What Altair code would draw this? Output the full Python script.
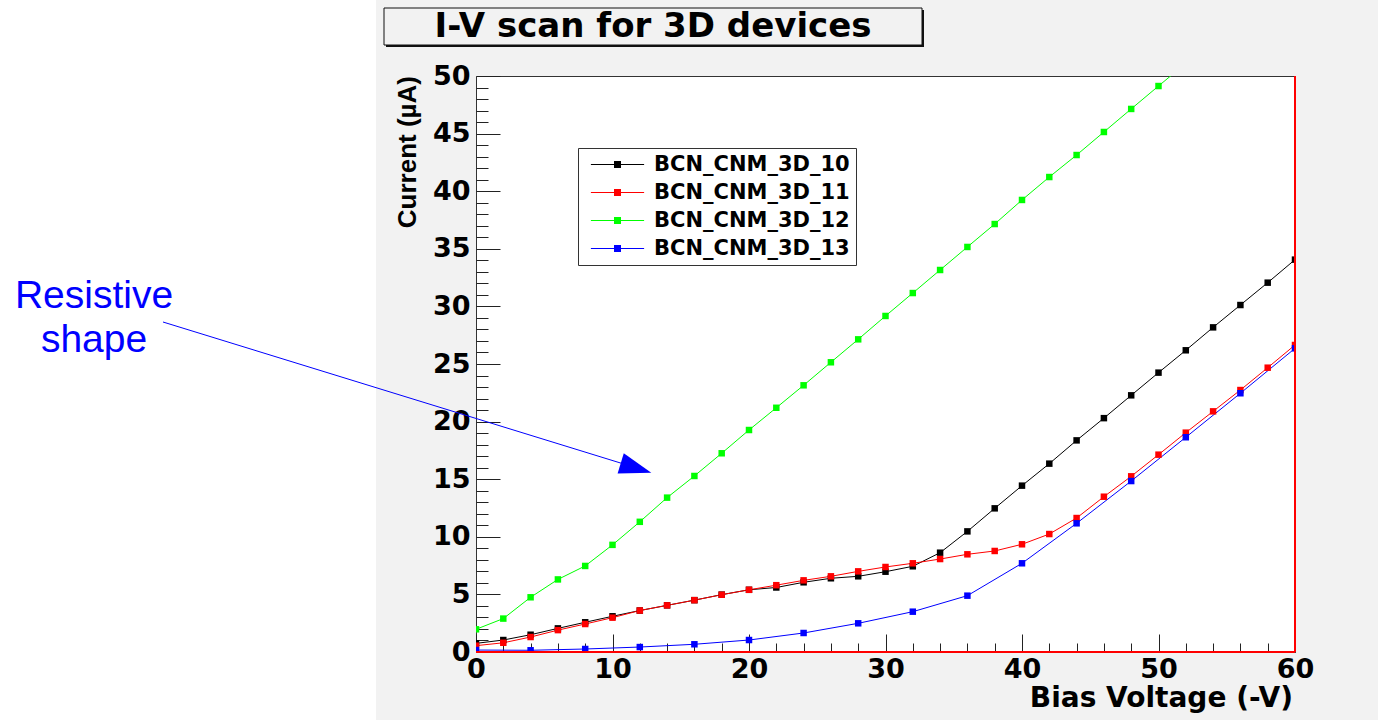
import altair as alt
import pandas as pd

# Bias voltage steps (-V)
VOLTS = list(range(0, 62, 2))
VOLTS_12 = list(range(0, 54, 2))
VOLTS_13 = list(range(0, 64, 4))

# Leakage current (uA) per device
I_10 = [0.75, 1.04, 1.5, 2.05, 2.58, 3.1, 3.6, 4.05, 4.5, 4.98, 5.4,
        5.6, 6.05, 6.4, 6.57, 6.97, 7.44, 8.62, 10.47, 12.47, 14.44,
        16.35, 18.37, 20.3, 22.28, 24.25, 26.19, 28.18, 30.12, 32.06, 34.06]
I_11 = [0.55, 0.8, 1.3, 1.9, 2.43, 2.98, 3.6, 4.05, 4.5, 4.97, 5.4,
        5.8, 6.22, 6.57, 7.0, 7.38, 7.7, 8.07, 8.48, 8.77, 9.35,
        10.24, 11.63, 13.48, 15.25, 17.13, 19.04, 20.89, 22.74, 24.68, 26.65]
I_12 = [1.97, 2.9, 4.75, 6.3, 7.47, 9.3, 11.3, 13.4, 15.28, 17.25, 19.27,
        21.2, 23.15, 25.15, 27.14, 29.17, 31.16, 33.16, 35.16, 37.15, 39.24,
        41.23, 43.14, 45.14, 47.14, 49.13, 51.1]
I_13 = [0.17, 0.15, 0.26, 0.43, 0.67, 1.04, 1.65, 2.49, 3.5, 4.89, 7.7,
        11.17, 14.84, 18.64, 22.46, 26.36]

DEVICES = ["BCN_CNM_3D_10", "BCN_CNM_3D_11", "BCN_CNM_3D_12", "BCN_CNM_3D_13"]
COLORS = ["#000000", "#ff0000", "#00ff00", "#0000ff"]

X_MAJOR = list(range(0, 61, 10))
X_MINOR = [v for v in range(0, 61, 2) if v % 10]
Y_MAJOR = list(range(0, 51, 5))
Y_MINOR = [v for v in range(0, 51) if v % 5]

rows = []
for name, xs, ys in zip(DEVICES, [VOLTS, VOLTS, VOLTS_12, VOLTS_13], [I_10, I_11, I_12, I_13]):
    for v, i in zip(xs, ys):
        rows.append({"device": name, "volt": v, "current": i})
df = pd.DataFrame(rows)
one = pd.DataFrame({"k": [0]})

W, H = 819, 576
PAD = {"left": 476, "top": 76, "right": 83, "bottom": 68}

BOLD = "DejaVu Sans"
xscale = alt.Scale(domain=[0, 60], nice=False, zero=False)
yscale = alt.Scale(domain=[0, 50], nice=False, zero=False)
# marker fill scale (carries the legend) and line stroke scale (device names sort in order)
fill_scale = alt.Scale(domain=DEVICES, range=COLORS)
stroke_scale = alt.Scale(range=COLORS)

axis_common = dict(domain=False, grid=False, title=None, tickColor="#222222", tickWidth=1)
x_major = alt.Axis(orient="bottom", values=X_MAJOR, tickSize=18, offset=-18, labelPadding=4,
                   labelFont=BOLD, labelFontWeight="bold", labelFontSize=27, labelColor="black",
                   labelFlush=False, labelOverlap=False, format="d", **axis_common)
x_minor = alt.Axis(orient="bottom", values=X_MINOR, tickSize=9, offset=-9, labels=False, **axis_common)
y_major = alt.Axis(orient="left", values=Y_MAJOR, tickSize=24, offset=-24, labelPadding=6,
                   labelFont=BOLD, labelFontWeight="bold", labelFontSize=27, labelColor="black",
                   labelFlush=False, labelOverlap=False, format="d", **axis_common)
y_minor = alt.Axis(orient="left", values=Y_MINOR, tickSize=12, offset=-12, labels=False, **axis_common)

# line sample with a square marker in the middle
LEGEND_SYMBOL = "M-7.6,-0.15H7.6V0.15H-7.6Z M-1,-1H1V1H-1Z"
legend = alt.Legend(title=None, orient="none", legendX=102, legendY=72,
                    padding=6, strokeColor="#333333", fillColor="white",
                    symbolType=LEGEND_SYMBOL, symbolSize=49, symbolStrokeWidth=0,
                    symbolOffset=23, labelOffset=26, rowPadding=6, labelLimit=500,
                    labelFont=BOLD, labelFontWeight="bold", labelFontSize=21, labelColor="black",
                    labelExpr="datum.label + '\u00a0\u00a0\u00a0\u00a0\u00a0'")

lines = alt.Chart(df).mark_line(strokeWidth=1, clip=True).encode(
    x=alt.X("volt:Q", scale=xscale, axis=x_major),
    y=alt.Y("current:Q", scale=yscale, axis=y_major),
    stroke=alt.Stroke("device:N", scale=stroke_scale, legend=None),
)
points = alt.Chart(df).mark_square(size=42, filled=True, opacity=1, clip=True).encode(
    x=alt.X("volt:Q", scale=xscale, axis=x_minor),
    y=alt.Y("current:Q", scale=yscale, axis=y_minor),
    fill=alt.Fill("device:N", scale=fill_scale, legend=legend),
)

# red frame edges on the right and bottom
edge_right = alt.Chart(pd.DataFrame({"v": [60]})).mark_rule(color="#ff0000", strokeWidth=2).encode(
    x=alt.X("v:Q", scale=xscale, axis=None))
edge_bottom = alt.Chart(pd.DataFrame({"v": [0]})).mark_rule(color="#ff0000", strokeWidth=2).encode(
    y=alt.Y("v:Q", scale=yscale, axis=None))

# white panel on the left side of the canvas
left_panel = alt.Chart(one).mark_rect(color="white").encode(
    x=alt.value(-PAD["left"]), x2=alt.value(-100), y=alt.value(-PAD["top"]), y2=alt.value(H + PAD["bottom"]))

# title box with drop shadow
title_shadow = alt.Chart(one).mark_rect(color="#111111").encode(
    x=alt.value(-90), x2=alt.value(448), y=alt.value(-66), y2=alt.value(-29))
title_box = alt.Chart(one).mark_rect(fill="#f2f2f2", stroke="#111111", strokeWidth=1).encode(
    x=alt.value(-92), x2=alt.value(446), y=alt.value(-68), y2=alt.value(-31))
title_text = alt.Chart(one).mark_text(text="I-V scan for 3D devices", font=BOLD, fontWeight="bold",
                                      fontSize=34, align="center", baseline="alphabetic", color="black").encode(
    x=alt.value(177), y=alt.value(-39))

y_title = alt.Chart(one).mark_text(text="Current (µA)", font="Liberation Sans", fontWeight="bold",
                                   fontSize=26, angle=270, align="right", baseline="middle", color="black").encode(
    x=alt.value(-68), y=alt.value(0))
x_title = alt.Chart(one).mark_text(text="Bias Voltage (-V)", font=BOLD, fontWeight="bold",
                                   fontSize=28, align="right", baseline="alphabetic", color="black").encode(
    x=alt.value(817), y=alt.value(631))

# annotation arrow
note = alt.Chart(one).mark_text(text=["Resistive", "shape"], lineHeight=44, font="Liberation Sans",
                                fontSize=39, align="center", baseline="alphabetic", color="#0000ff").encode(
    x=alt.value(-382), y=alt.value(232))
arrow_line = alt.Chart(one).mark_rule(color="#0000ff", strokeWidth=1).encode(
    x=alt.value(-313), y=alt.value(246), x2=alt.value(164), y2=alt.value(393))
arrow_head = alt.Chart(one).mark_point(shape="M1,0L-1,-0.66L-1,0.66Z", size=1024, angle=17, filled=True,
                                       color="#0000ff", opacity=1, strokeWidth=0).encode(
    x=alt.value(160), y=alt.value(392))

chart = alt.layer(
    left_panel, title_shadow, title_box, title_text, y_title, x_title,
    note, arrow_line, arrow_head, lines, points, edge_right, edge_bottom,
).resolve_scale(x="independent", y="independent").resolve_axis(
    x="independent", y="independent"
).properties(
    width=W, height=H, padding=PAD, autosize=alt.AutoSizeParams(type="none"), background="#f2f2f2",
).configure_view(fill="white", stroke="#333333", strokeWidth=1)

chart.save("out.html", embed_options={"renderer": "svg", "actions": False})
